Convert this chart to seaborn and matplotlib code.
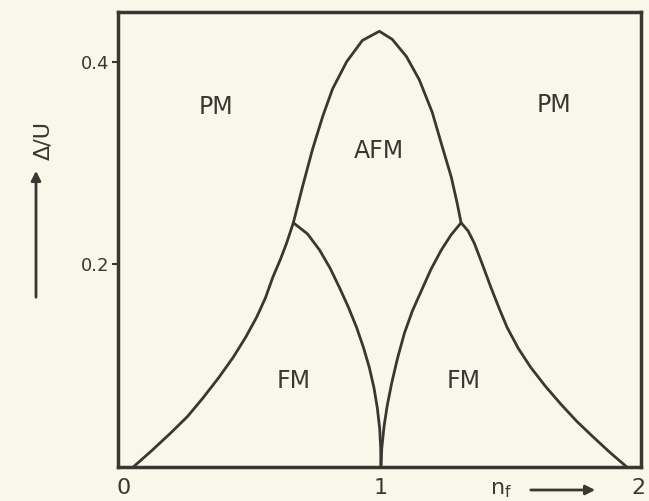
import matplotlib
matplotlib.use("Agg")
import matplotlib.pyplot as plt
import seaborn as sns
import pandas as pd

# phase boundaries (n_f, Delta/U)
fm_left_outer_n = [0.039, 0.110, 0.182, 0.250, 0.309, 0.370, 0.426, 0.475, 0.518, 0.552, 0.580, 0.610, 0.634, 0.660]
fm_left_outer_d = [0.000, 0.016, 0.033, 0.050, 0.068, 0.088, 0.108, 0.128, 0.148, 0.167, 0.187, 0.205, 0.221, 0.241]

fm_left_inner_n = [0.660, 0.715, 0.762, 0.803, 0.839, 0.873, 0.905, 0.932, 0.955, 0.973, 0.986, 0.995, 0.999, 1.000]
fm_left_inner_d = [0.241, 0.230, 0.214, 0.196, 0.177, 0.158, 0.138, 0.118, 0.098, 0.078, 0.058, 0.038, 0.019, 0.000]

fm_right_inner_n = [1.000, 1.003, 1.012, 1.024, 1.041, 1.064, 1.091, 1.122, 1.157, 1.194, 1.234, 1.272, 1.311]
fm_right_inner_d = [0.000, 0.018, 0.040, 0.060, 0.082, 0.107, 0.132, 0.154, 0.174, 0.195, 0.214, 0.229, 0.241]

fm_right_outer_n = [1.311, 1.338, 1.362, 1.395, 1.427, 1.458, 1.489, 1.533, 1.582, 1.637, 1.698, 1.760, 1.826, 1.890, 1.954]
fm_right_outer_d = [0.241, 0.233, 0.221, 0.199, 0.177, 0.157, 0.138, 0.117, 0.098, 0.080, 0.062, 0.045, 0.029, 0.014, 0.000]

afm_n = [0.660, 0.678, 0.696, 0.735, 0.774, 0.812, 0.867, 0.928, 0.994,
         1.044, 1.099, 1.149, 1.199, 1.238, 1.273, 1.296, 1.311]
afm_d = [0.241, 0.259, 0.277, 0.314, 0.346, 0.373, 0.400, 0.421, 0.430,
         0.422, 0.405, 0.382, 0.350, 0.316, 0.286, 0.260, 0.241]

region_names = ["PM", "PM", "AFM", "FM", "FM"]
region_n = [0.36, 1.67, 0.99, 0.66, 1.32]
region_d = [0.355, 0.357, 0.312, 0.085, 0.085]

xticks = [0, 1, 2]
xticklabels = ["0", "1", "2"]
yticks = [0.2, 0.4]
yticklabels = ["0.2", "0.4"]

paper = "#f9f7ea"
ink = "#3b3632"

sns.set_style("white")
plt.rcParams['font.family'] = ['DejaVu Sans']

fig = plt.figure(figsize=(6.49, 5.01), dpi=100, facecolor=paper)
ax = fig.add_axes([0.182, 0.068, 0.806, 0.908])
ax.set_facecolor(paper)

curves = [
    (fm_left_outer_n, fm_left_outer_d),
    (fm_left_inner_n, fm_left_inner_d),
    (fm_right_inner_n, fm_right_inner_d),
    (fm_right_outer_n, fm_right_outer_d),
    (afm_n, afm_d),
]
for n, d in curves:
    df = pd.DataFrame({"n": n, "d": d})
    sns.lineplot(data=df, x="n", y="d", sort=False, estimator=None,
                 color=ink, linewidth=2.0, ax=ax)

for name, n, d in zip(region_names, region_n, region_d):
    ax.text(n, d, name, ha="center", va="center", fontsize=17, color=ink)

ax.set_xlim(-0.02, 2.01)
ax.set_ylim(0, 0.449)
ax.set_xticks(xticks)
ax.set_xticklabels(xticklabels, fontsize=16, color=ink)
ax.set_yticks(yticks)
ax.set_yticklabels(yticklabels, fontsize=13, color=ink)
ax.tick_params(axis="x", length=0, pad=8)
ax.tick_params(axis="y", length=4, width=1.5, color=ink, pad=2, direction="out", left=True)
ax.set_xlabel("")
ax.set_ylabel("")
for s in ax.spines.values():
    s.set_visible(True)
    s.set_color(ink)
    s.set_linewidth(2.5)

# axis captions with arrows
fig.text(501 / 649, 1 - 490 / 501, r"$\mathregular{n_f}$", fontsize=16, color=ink,
         ha="center", va="center")
fig.patches.append(matplotlib.patches.FancyArrowPatch(
    (528 / 649, 1 - 490 / 501), (598 / 649, 1 - 490 / 501), transform=fig.transFigure,
    arrowstyle="-|>", mutation_scale=14, color=ink, linewidth=2))
fig.text(43 / 649, 1 - 140 / 501, "Δ/U", fontsize=16, color=ink, rotation=90,
         ha="center", va="center")
fig.patches.append(matplotlib.patches.FancyArrowPatch(
    (36 / 649, 1 - 300 / 501), (36 / 649, 1 - 168 / 501), transform=fig.transFigure,
    arrowstyle="-|>", mutation_scale=14, color=ink, linewidth=2))

fig.savefig("out.png", dpi=100, facecolor=paper)
